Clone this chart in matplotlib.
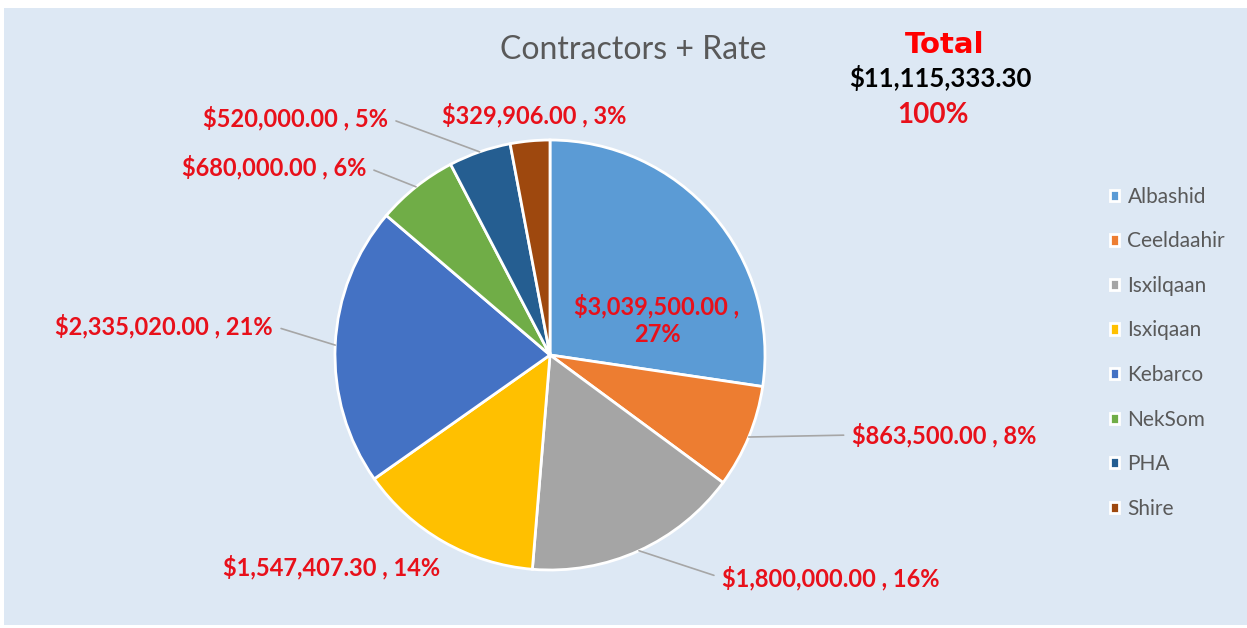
import numpy as np
import matplotlib
matplotlib.use("Agg")
import matplotlib.pyplot as plt
from matplotlib.patches import Rectangle

# Chart data.
contractors = ["Albashid", "Ceeldaahir", "Isxilqaan", "Isxiqaan", "Kebarco", "NekSom", "PHA", "Shire"]
amounts = [3039500.00, 863500.00, 1800000.00, 1547407.30, 2335020.00, 680000.00, 520000.00, 329906.00]
colors = ["#5B9BD5", "#ED7D31", "#A5A5A5", "#FFC000", "#4472C4", "#70AD47", "#255E91", "#9E480E"]

W, H = 1247, 628
plt.rcParams['font.family'] = ['Lato', 'DejaVu Sans']

fig = plt.figure(figsize=(W / 100, H / 100), dpi=100)
fig.patch.set_facecolor("white")
ax = fig.add_axes([0, 0, 1, 1])
ax.set_axis_off()

# Light blue chart area (pixel coords, y measured from bottom).
ax.add_patch(Rectangle((4, 3), W - 4, H - 11, facecolor="#DDE8F4", edgecolor="none", zorder=0))

cx, cy, R = 550, H - 355, 215
wedges, _ = ax.pie(amounts, colors=colors, startangle=90, counterclock=False,
                   center=(cx, cy), radius=R, frame=True,
                   wedgeprops=dict(edgecolor="white", linewidth=2))
ax.set_xlim(0, W)
ax.set_ylim(0, H)
ax.set_axis_off()

total = sum(amounts)
red = "#E8101A"

# Label placement: (x, y in pixels from top, horizontal alignment, draw leader line)
layout = [
    (657, 320, "center", False),
    (852, 435, "left", True),
    (722, 578, "left", True),
    (440, 567, "right", False),
    (273, 326, "right", True),
    (366, 167, "right", True),
    (388, 118, "right", True),
    (442, 115, "left", False),
]

for w, amt, (lx, ly, ha, line) in zip(wedges, amounts, layout):
    pct = amt / total * 100
    if ha == "center":
        txt = f"${amt:,.2f} ,\n{pct:.0f}%"
    else:
        txt = f"${amt:,.2f} , {pct:.0f}%"
    mid = np.radians((w.theta1 + w.theta2) / 2)
    edge = (cx + R * np.cos(mid), cy + R * np.sin(mid))
    if line:
        relx = 0 if ha == "left" else 1
        ax.annotate(txt, xy=edge, xytext=(lx, H - ly),
                    ha=ha, va="center", color=red, fontsize=17, fontweight="bold",
                    arrowprops=dict(arrowstyle="-", color="#A6A6A6", lw=1.2,
                                    relpos=(relx, 0.5), shrinkA=4, shrinkB=0))
    else:
        ax.text(lx, H - ly, txt, ha=ha, va="center", color=red, fontsize=17,
                fontweight="bold", linespacing=1.25)

# Title and total block.
ax.text(633, H - 50, "Contractors + Rate", ha="center", va="center", color="#595959", fontsize=23)
ax.text(945, H - 45, "Total", ha="center", va="center", color="#FF0000", fontsize=21,
        fontweight="bold", family="DejaVu Sans")
ax.text(940, H - 78, f"${total:,.2f}", ha="center", va="center", color="black", fontsize=18.5, fontweight="bold")
ax.text(933, H - 115, "100%", ha="center", va="center", color=red, fontsize=20, fontweight="bold")

leg = ax.legend(wedges, contractors, loc="upper left", bbox_to_anchor=(1091 / W, 1 - 168 / H),
                frameon=False, fontsize=15, handlelength=0.45, handleheight=0.45,
                handletextpad=0.4, labelspacing=1.18)
for t in leg.get_texts():
    t.set_color("#595959")

fig.savefig("out.png", dpi=100, facecolor=fig.get_facecolor())
